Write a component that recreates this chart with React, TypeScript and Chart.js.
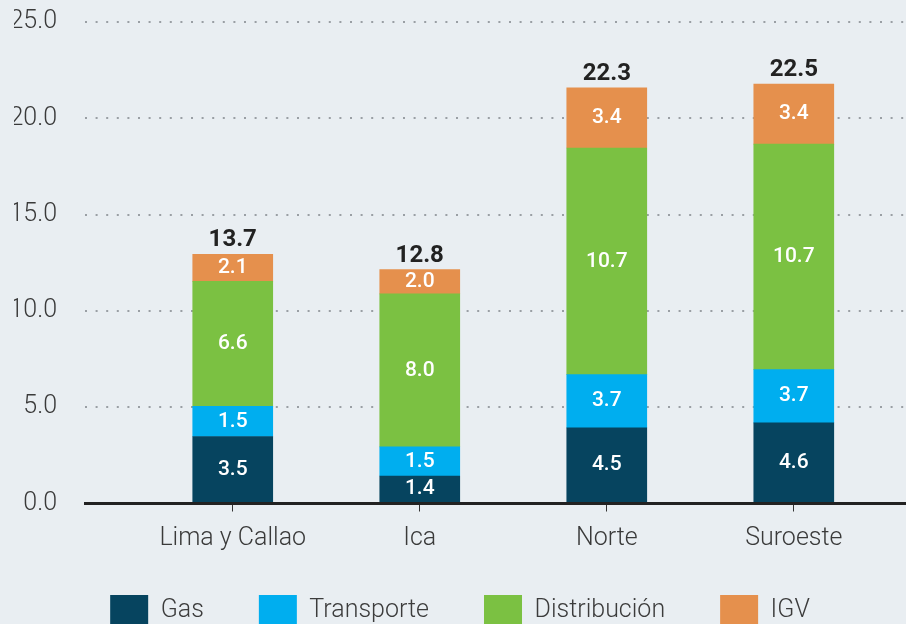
import { useEffect, useRef } from 'react';
import { Chart, registerables } from 'chart.js';

Chart.register(...registerables);

const categories = ['Lima y Callao', 'Ica', 'Norte', 'Suroeste'];
const seriesNames = ['Gas', 'Transporte', 'Distribución', 'IGV'];

// bar heights as drawn in the picture
const gasValues = [3.48, 1.43, 3.93, 4.19];
const transporteValues = [1.56, 1.51, 2.76, 2.76];
const distribucionValues = [6.49, 7.94, 11.77, 11.71];
const igvValues = [1.41, 1.26, 3.12, 3.12];

// numbers printed on the bars
const gasLabels = ['3.5', '1.4', '4.5', '4.6'];
const transporteLabels = ['1.5', '1.5', '3.7', '3.7'];
const distribucionLabels = ['6.6', '8.0', '10.7', '10.7'];
const igvLabels = ['2.1', '2.0', '3.4', '3.4'];
const totalLabels = ['13.7', '12.8', '22.3', '22.5'];

const seriesColors = ['#06445f', '#00aeef', '#7bc142', '#e5904d'];

const BG = '#e9eef2';
const FONT = 'Roboto, "Noto Sans", sans-serif';

export default function App() {
  const ref = useRef<HTMLCanvasElement | null>(null);

  useEffect(() => {
    document.body.style.margin = '0';
    document.body.style.background = BG;
    const canvas = ref.current;
    if (!canvas) return;

    const values = [gasValues, transporteValues, distribucionValues, igvValues];
    const labels = [gasLabels, transporteLabels, distribucionLabels, igvLabels];

    const labelPlugin = {
      id: 'valueLabels',
      afterLayout(chart: any) {
        // let the category labels overhang the (compact) x-axis box without being clipped
        const xs = chart.scales.x;
        xs.bottom = xs.top + 60;
      },
      afterDatasetsDraw(chart: any) {
        const ctx = chart.ctx;
        ctx.save();
        ctx.textAlign = 'center';
        labels.forEach((lab, si) => {
          const meta = chart.getDatasetMeta(si);
          meta.data.forEach((bar: any, i: number) => {
            const { x, y, base } = bar.getProps(['x', 'y', 'base'], true);
            ctx.fillStyle = '#ffffff';
            ctx.font = `500 21px ${FONT}`;
            ctx.textBaseline = 'middle';
            ctx.fillText(lab[i], x, (y + base) / 2);
          });
        });
        const topMeta = chart.getDatasetMeta(labels.length - 1);
        topMeta.data.forEach((bar: any, i: number) => {
          const { x, y } = bar.getProps(['x', 'y'], true);
          ctx.fillStyle = '#222222';
          ctx.font = `bold 24px ${FONT}`;
          ctx.textBaseline = 'alphabetic';
          ctx.fillText(totalLabels[i], x, y - 8);
        });
        ctx.restore();
      },
    };

    const chart = new Chart(canvas, {
      type: 'bar',
      data: {
        datasets: values.map((vals, si) => ({
          label: seriesNames[si],
          data: vals.map((v, i) => ({ x: i, y: v })),
          backgroundColor: seriesColors[si],
          borderWidth: 0,
          barThickness: 80,
        })),
      },
      options: {
        responsive: false,
        animation: false,
        layout: { padding: { top: 22, left: 14, right: 0, bottom: 0 } },
        plugins: {
          tooltip: { enabled: false },
          legend: {
            position: 'bottom',
            labels: {
              boxWidth: 38,
              boxHeight: 32,
              padding: 55,
              color: '#3c3c3c',
              font: { family: FONT, size: 25, weight: '300' },
            },
          },
        },
        scales: {
          x: {
            type: 'linear',
            stacked: true,
            offset: false,
            min: -0.79,
            max: 3.6,
            afterFit: (s: any) => {
              s.height = 36.5;
              s.paddingLeft = 0;
              s.paddingRight = 0;
            },
            ticks: {
              stepSize: 1,
              includeBounds: false,
              autoSkip: false,
              maxRotation: 0,
              minRotation: 0,
              padding: 12,
              color: '#3a3a3a',
              font: { family: FONT, size: 25, weight: '300' },
              callback: (v: any) => categories[Number(v)] ?? '',
            },
            grid: {
              display: true,
              offset: false,
              drawOnChartArea: false,
              drawTicks: true,
              tickLength: 8,
              color: '#333333',
              lineWidth: 1,
            },
            border: { display: true, width: 3, color: '#222222', z: 1 },
          },
          y: {
            stacked: true,
            min: 0,
            max: 25,
            afterFit: (s: any) => {
              s.width = 71;
              s.paddingTop = 0;
              s.paddingBottom = 0;
            },
            ticks: {
              stepSize: 5,
              padding: 28,
              color: '#3a3a3a',
              font: { family: FONT, size: 25, weight: '300' },
              callback: (v: any) => Number(v).toFixed(1),
            },
            grid: { drawTicks: false, color: '#9a9fa4', lineWidth: 2 },
            border: { display: false, dash: [2, 8.6] },
          },
        },
      } as any,
      plugins: [labelPlugin],
    });

    return () => chart.destroy();
  }, []);

  return (
    <div style={{ width: 906, height: 624, overflow: 'hidden', background: BG }}>
      <canvas ref={ref} width={906} height={637} style={{ display: 'block' }} />
    </div>
  );
}
